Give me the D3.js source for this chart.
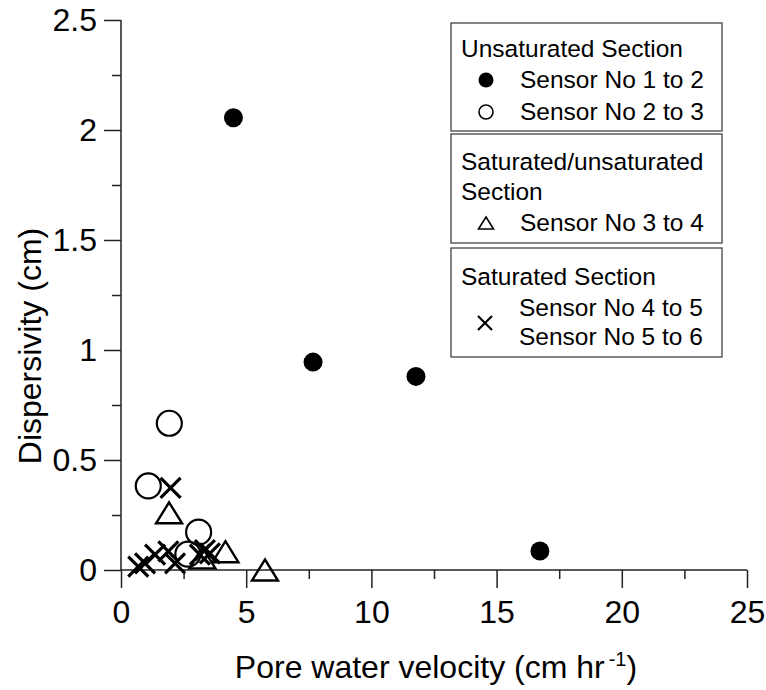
<!DOCTYPE html>
<html>
<head>
<meta charset="utf-8">
<script src="https://cdn.jsdelivr.net/npm/d3@7"></script>
<style>
  html, body { margin: 0; padding: 0; background: #fff; }
  svg { display: block; font-family: "Liberation Sans", Arial, sans-serif; }
</style>
</head>
<body>
<svg id="chart" width="766" height="690"></svg>
<script>
// ---- data ----
const xTicks = [0, 5, 10, 15, 20, 25];
const yTicks = [0, 0.5, 1, 1.5, 2, 2.5];
const yTickLabels = ["0", "0.5", "1", "1.5", "2", "2.5"];

const sensor12X = [4.49, 7.67, 11.78, 16.73];
const sensor12Y = [2.056, 0.945, 0.88, 0.086];

const sensor23X = [1.09, 1.93, 3.10, 2.67];
const sensor23Y = [0.382, 0.667, 0.172, 0.072];

const sensor34X = [1.92, 4.17, 5.75, 3.25];
const sensor34Y = [0.26, 0.083, 0.0, 0.055];

const sensor45X = [0.69, 0.96, 1.36, 1.89, 2.16];
const sensor45Y = [0.015, 0.03, 0.07, 0.085, 0.03];

const sensor56X = [3.15, 3.35, 3.55, 1.98];
const sensor56Y = [0.07, 0.09, 0.076, 0.373];

// ---- layout ----
const svg = d3.select("#chart");
const x = d3.scaleLinear().domain([0, 25]).range([121, 747]);
const y = d3.scaleLinear().domain([0, 2.5]).range([570, 20]);
const axisColor = "#222";

// x axis
const gx = svg.append("g").attr("transform", `translate(0,${y(0)})`);
gx.call(d3.axisBottom(x).tickValues(xTicks).tickSize(18).tickPadding(12).tickFormat(d3.format("d")));
gx.select(".domain").attr("d", `M${x(0)},0H${x(25)}`).attr("stroke", axisColor).attr("stroke-width", 1.5);
gx.selectAll(".tick line").attr("stroke", axisColor).attr("stroke-width", 1.5);
gx.selectAll(".tick text").attr("font-size", 32).attr("fill", "#000").attr("font-family", '"Liberation Sans", Arial, sans-serif');
const gxm = svg.append("g").attr("transform", `translate(0,${y(0)})`);
gxm.call(d3.axisBottom(x).tickValues([2.5, 7.5, 12.5, 17.5, 22.5]).tickSize(9).tickFormat(""));
gxm.select(".domain").remove();
gxm.selectAll(".tick line").attr("stroke", axisColor).attr("stroke-width", 1.5);

// y axis
const gy = svg.append("g").attr("transform", `translate(${x(0)},0)`);
gy.call(d3.axisLeft(y).tickValues(yTicks).tickSize(17).tickPadding(7).tickFormat((d, i) => yTickLabels[i]));
gy.select(".domain").attr("d", `M0,${y(2.5)}V${y(0)}`).attr("stroke", axisColor).attr("stroke-width", 1.5);
gy.selectAll(".tick line").attr("stroke", axisColor).attr("stroke-width", 1.5);
gy.selectAll(".tick text").attr("font-size", 32).attr("fill", "#000").attr("font-family", '"Liberation Sans", Arial, sans-serif');
const gym = svg.append("g").attr("transform", `translate(${x(0)},0)`);
gym.call(d3.axisLeft(y).tickValues([0.25, 0.75, 1.25, 1.75, 2.25]).tickSize(9).tickFormat(""));
gym.select(".domain").remove();
gym.selectAll(".tick line").attr("stroke", axisColor).attr("stroke-width", 1.5);

// axis titles
const xt = svg.append("text").attr("x", 436).attr("y", 678).attr("text-anchor", "middle").attr("font-size", 32);
xt.append("tspan").text("Pore water velocity (cm hr");
xt.append("tspan").attr("font-size", 20).attr("dy", -12).attr("dx", 4).text("-1");
xt.append("tspan").attr("dy", 12).text(")");

svg.append("text").attr("transform", "translate(41,346) rotate(-90)")
  .attr("text-anchor", "middle").attr("font-size", 32).text("Dispersivity (cm)");

// ---- markers ----
const zip = (xs, ys) => xs.map((v, i) => [v, ys[i]]);
const marks = svg.append("g");

function triPath(w, h) { return `M0,${-h/2}L${w/2},${h/2}L${-w/2},${h/2}Z`; }
function crossPath(s) { return `M${-s},${-s}L${s},${s}M${-s},${s}L${s},${-s}`; }

marks.selectAll(".c12").data(zip(sensor12X, sensor12Y)).enter().append("circle")
  .attr("cx", d => x(d[0])).attr("cy", d => y(d[1])).attr("r", 9.5).attr("fill", "#000");

marks.selectAll(".c23").data(zip(sensor23X, sensor23Y)).enter().append("circle")
  .attr("cx", d => x(d[0])).attr("cy", d => y(d[1])).attr("r", 12.5)
  .attr("fill", "none").attr("stroke", "#000").attr("stroke-width", 2.2);

marks.selectAll(".t34").data(zip(sensor34X, sensor34Y)).enter().append("path")
  .attr("transform", d => `translate(${x(d[0])},${y(d[1])})`)
  .attr("d", triPath(26, 21)).attr("fill", "none").attr("stroke", "#000").attr("stroke-width", 2.4).attr("stroke-linejoin", "miter");

marks.selectAll(".x45").data(zip(sensor45X, sensor45Y).concat(zip(sensor56X, sensor56Y))).enter().append("path")
  .attr("transform", d => `translate(${x(d[0])},${y(d[1])})`)
  .attr("d", crossPath(10)).attr("fill", "none").attr("stroke", "#000").attr("stroke-width", 3.2);

// ---- legend ----
const lg = svg.append("g");
const boxes = [[451, 23, 271, 108], [451, 134, 271, 109], [451, 248, 271, 109]];
lg.selectAll("rect").data(boxes).enter().append("rect")
  .attr("x", d => d[0]).attr("y", d => d[1]).attr("width", d => d[2]).attr("height", d => d[3])
  .attr("fill", "#fff").attr("stroke", "#444").attr("stroke-width", 1.3);

const legendTexts = [
  ["Unsaturated Section", 461, 57], ["Sensor No 1 to 2", 520, 88], ["Sensor No 2 to 3", 520, 120],
  ["Saturated/unsaturated", 461, 170], ["Section", 461, 200], ["Sensor No 3 to 4", 520, 231],
  ["Saturated Section", 461, 285], ["Sensor No 4 to 5", 519, 316], ["Sensor No 5 to 6", 519, 345]
];
lg.selectAll("text").data(legendTexts).enter().append("text")
  .attr("x", d => d[1]).attr("y", d => d[2]).attr("font-size", 24.5).attr("fill", "#000").text(d => d[0]);

lg.append("circle").attr("cx", 486).attr("cy", 80).attr("r", 7.5).attr("fill", "#000");
lg.append("circle").attr("cx", 486).attr("cy", 112).attr("r", 7).attr("fill", "none").attr("stroke", "#000").attr("stroke-width", 1.6);
lg.append("path").attr("transform", "translate(486,223)").attr("d", triPath(15, 12)).attr("fill", "none").attr("stroke", "#000").attr("stroke-width", 1.6);
lg.append("path").attr("transform", "translate(485,323)").attr("d", crossPath(7)).attr("fill", "none").attr("stroke", "#000").attr("stroke-width", 2.2);
</script>
</body>
</html>
